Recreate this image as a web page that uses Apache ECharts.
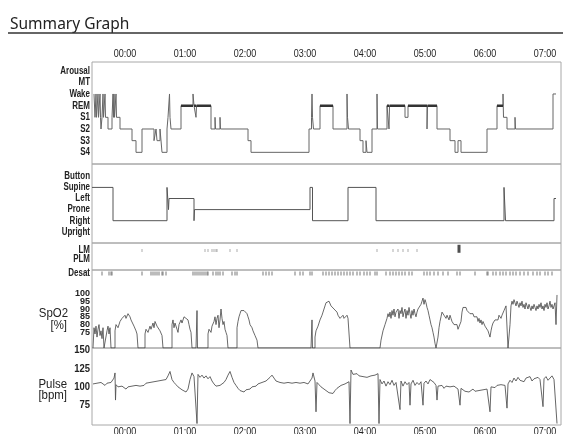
<!DOCTYPE html>
<html>
<head>
<meta charset="utf-8">
<script src="https://cdn.jsdelivr.net/npm/echarts@6/dist/echarts.min.js"></script>
<style>
html,body{margin:0;padding:0;background:#fff;}
#chart{width:563px;height:434px;}
</style>
</head>
<body>
<div id="chart"></div>
<script>
// ---- time axis (minutes from 00:00) ----
const timeTicks = [0, 60, 120, 180, 240, 300, 360, 420];
const timeLabels = ['00:00', '01:00', '02:00', '03:00', '04:00', '05:00', '06:00', '07:00'];

// ---- hypnogram: 0=S4 1=S3 2=S2 3=S1 4=REM 5=Wake 6=MT 7=Arousal ----
const stageNames = ['S4', 'S3', 'S2', 'S1', 'REM', 'Wake', 'MT', 'Arousal'];
const hypno = [
  [-31,5],[-30,3],[-29,5],[-28.5,3],[-27,5],[-26.5,3],[-25,5],[-24.5,3],[-24,2],[-23,3],[-22,5],[-21.5,3],
  [-20,5],[-19.5,3],[-17,2],[-13,3],[-12,5],[-11.5,3],[-11,5],[-10.5,3],[-9,5],[-8.5,3],[-5,2],[7,1],[11,0],
  [17,2],[29,1],[31,2],[32,1],[35,2],[37,0],[42,2],[43,3],[44.5,5],[45,3],[46,2],[56,4],[68,5],[69,4],[71,3],
  [71.5,4],[86,2],[90,3],[90.5,2],[95,3],[95.5,2],[123,1],[126,0],[184,2],[186.5,3],[187,5],[187.5,3],[188.5,2],
  [195,4],[208,2],[222,5],[222.5,3],[223.5,2],[235,1],[238,0],[241,1],[242,0],[247,2],[252,5],[252.5,2],
  [262,4],[264,2],[264.5,4],[280,3],[283,4],[302,2],[302.5,4],[312,2],[325,1],[330,0],[333,1],[336,0],
  [362,2],[372,4],[378,5],[378.5,3],[382,2],[390,3],[390.5,2],[428,5],[431,5]
];

// ---- body position: 0=Upright 1=Right 2=Prone 3=Left 4=Supine 5=Button ----
const positionNames = ['Upright', 'Right', 'Prone', 'Left', 'Supine', 'Button'];
const position = [
  [-33,4],[-12,1],[42,4],[43.5,2],[44,3],[69,1],[69.5,2],[185,4],[187.5,1],[223,4],[251,1],
  [379,4],[380.5,1],[429,3],[431,3]
];

// ---- limb movements / desaturations (event times, minutes) ----
const limbNames = ['PLM', 'LM'];
const lmEvents = [17, 80, 83, 87, 89, 91, 92, 105, 112, 252, 268, 273, 278, 283, 292];
const lmBlock = [334];
const desatNames = ['Desat'];
const desatEvents = [
  -23,-16,-14,-13,17,26,28,30,32,34,37,38,41,68,70,72,74,76,78,80,82,83,88,91,93,95,98,107,110,112,
  138,141,144,147,170,175,178,185,187,198,201,204,207,210,213,216,219,222,225,228,232,235,239,242,245,
  250,252,261,265,268,271,274,277,280,284,287,299,302,305,309,313,318,323,332,335,350,362,363,368,371,
  375,378,381,385,388,391,395,399,403,408,412,415,420,423,427
];

// ---- SpO2 [%] ----
const spo2Ticks = [75, 80, 85, 90, 95, 100];
const spo2 = [
  [-32,65],[-31,78],[-30,74],[-29,79],[-28,72],[-27,77],[-26,80],[-25,73],[-24,76],[-23,71],[-22,78],[-21,65],
  [-19,65],[-18,76],[-17,79],[-16,74],[-15,78],[-14,65],
  [-10,65],[-10,76],[-9,80],[-7,78],[-5,82],[-3,84],[-1,83],[0,86],[1,84],[3,87],[5,85],[6,83],[8,82],[9,79],[10,80],[11,76],[12,74],[13,65],
  [20,65],[20,74],[21,77],[23,75],[25,79],[26,77],[28,81],[29,78],[30,82],[32,79],[33,80],[35,76],[36,77],[37,73],[38,65],
  [47,65],[47,80],[48,83],[49,78],[50,81],[52,77],[53,75],[54,80],[56,83],[57,81],[59,85],[60,84],[61,86],[63,83],[64,80],[65,77],[66,75],[67,65],
  [71,65],[72,89],[72.5,65],
  [83,65],[83,74],[84,77],[86,75],[87,79],[89,82],[90,85],[91,80],[92,84],[93,86],[94,78],[95,83],[96,90],[97,84],[98,80],[99,82],[100,77],[101,75],[102,73],[103,65],
  [112,65],[112,78],[113,82],[114,85],[115,87],[116,89],[118,88],[119,89],[120,88],[122,87],[123,85],[124,83],[125,80],[127,78],[128,76],[129,77],[130,73],[131,72],[132,70],[133,65],
  [186,65],[187,83],[187.5,65],
  [190,65],[190,72],[191,76],[192,75],[193,79],[194,81],[195,83],[196,82],[197,86],[198,88],[199,90],[200,92],[201,94],[202,95],[203,93],[204,95],[205,94],[206,92],[207,93],[208,92],[209,90],[210,91],[211,89],[212,88],[213,86],[214,87],[215,84],[216,85],[217,83],[218,86],[219,84],[220,85],[221,83],[222,86],[223,84],[224,85],[225,65],
  [255,65],[256,70],[258,76],[260,80],[262,84],[263,87],[264,85],[265,88],[266,84],[267,89],[268,86],[269,90],[270,85],[271,88],[272,87],[273,90],[274,84],[275,89],[276,87],[277,91],[278,85],[279,88],[280,90],[281,84],[282,89],[283,86],[284,91],[285,87],[286,84],[287,89],[288,86],[289,90],[290,87],[291,85],[292,88],[293,90],[294,91],[295,89],[296,93],[297,95],[298,97],[299,93],[300,96],[301,94],[302,91],[303,89],[304,86],[305,83],[306,80],[307,78],[308,75],[309,72],[310,68],[311,65],
  [312,65],[313,72],[314,78],[315,82],[316,85],[317,88],[318,89],[319,86],[320,87],[321,84],[322,86],[323,85],[324,83],[325,86],[326,84],[327,82],[328,83],[329,80],[330,81],[331,79],[332,80],[333,77],[334,78],[335,76],
  [336,82],[337,88],[338,91],[339,92],[340,90],[341,91],[342,89],[343,88],[344,89],[345,87],[346,88],[347,86],[348,87],[349,85],[350,86],[351,84],[352,85],
  [353,82],[354,84],[355,81],[356,83],[357,80],[358,82],[359,81],[360,79],[361,80],[362,78],[363,76],[364,74],[365,72],
  [366,76],[367,79],[368,81],[369,80],[370,83],[371,82],[372,84],[373,83],[374,86],[375,85],[376,84],[377,86],[378,87],[379,89],[380,90],[381,92],[382,91],[383,65],[384,65],
  [385,80],[386,92],[387,95],[388,93],[389,96],[390,94],[391,92],[392,95],[393,93],[394,91],[395,94],[396,92],[397,95],[398,91],[399,93],[400,90],[401,94],[402,92],[403,90],[404,93],[405,91],[406,89],[407,92],[408,90],[409,93],[410,91],[411,89],[412,92],[413,90],[414,93],[415,91],[416,94],[417,90],[418,92],[419,89],[420,93],[421,91],[422,94],[423,90],[424,92],[425,95],[426,91],[427,93],[428,90],[429,92],[430,94],[431,80],[432,99]
];

// ---- Pulse [bpm] ----
const pulseTicks = [75, 100, 125, 150];
const pulse = [
  [-32,104],[-30,102],[-28,105],[-26,103],[-24,106],[-22,104],[-20,102],[-18,105],[-16,103],[-14,106],[-12,105],[-11,112],[-10,119],[-9.5,82],[-9,103],
  [-7,100],[-5,98],[-3,101],[-1,99],[1,97],[3,100],[5,98],[7,101],[9,99],[11,102],[13,100],[15,101],[17,103],[19,102],[21,105],[23,104],[25,106],[27,104],
  [29,107],[31,105],[33,108],[35,106],[37,109],[39,107],[41,110],[43,115],[45,121],[47,110],[49,106],[51,103],[53,100],[55,98],[57,96],[59,94],[61,93],
  [63,97],[65,110],[67,119],[69,114],[71,116],[72,50],[73,117],[75,113],[77,116],[79,112],[81,115],[83,111],[85,114],[87,108],[89,104],[91,101],[93,99],
  [95,102],[97,100],[99,106],[101,110],[103,116],[105,121],[107,113],[109,106],[111,102],[113,98],[115,95],[117,94],[119,93],[121,96],[123,98],[125,97],
  [127,100],[129,102],[131,101],[133,104],[135,103],[137,106],[139,105],[141,108],[143,110],[145,113],[147,116],[149,112],[151,108],[153,107],[155,106],
  [157,108],[159,105],[161,107],[163,106],[165,108],[167,105],[169,107],[171,106],[173,108],[175,105],[177,107],[179,106],[181,108],[183,104],[185,106],
  [187,112],[188,119],[190,108],[191,66],[192,106],[194,103],[196,100],[198,98],[200,96],[202,94],[204,92],[206,93],[208,91],[210,95],[212,98],[214,100],
  [216,102],[218,101],[220,104],[222,106],[224,107],[225,50],[226,123],[228,117],[230,116],[232,118],[234,115],[236,116],[238,114],[240,115],[242,113],
  [244,114],[246,115],[248,114],[250,116],[252,117],[253,118],[254,50],[255,110],[257,104],[259,108],[261,101],[263,107],[265,103],[267,109],[269,102],
  [271,106],[273,104],[275,69],[276,108],[278,101],[280,107],[282,103],[284,106],[285,75],[286,104],[288,109],[290,102],[292,106],[294,103],[296,107],
  [298,75],[299,105],[301,108],[303,104],[305,110],[307,112],[309,106],[311,102],[312,82],[313,101],[315,99],[317,102],[319,98],[321,101],[323,99],
  [325,100],[327,98],[329,101],[331,99],[333,97],[335,75],[336,98],[338,96],[340,94],[342,96],[344,93],[346,95],[348,97],[350,94],[352,96],[354,95],
  [356,97],[358,96],[360,98],[362,97],[364,99],[365,66],[366,100],[368,101],[370,99],[372,102],[374,100],[376,103],[378,101],[380,102],[382,71],[383,104],
  [385,109],[387,106],[389,112],[391,108],[393,113],[395,109],[397,111],[399,107],[401,112],[403,110],[405,114],[407,108],[409,111],[411,109],[413,113],
  [415,110],[417,112],[418,73],[419,111],[421,114],[423,109],[425,112],[427,115],[429,110],[431,112],[432,50]
];

// ---------------------------------------------------------------
const SANS = '"Liberation Sans", Arial, sans-serif';
const T_MIN = -33, T_MAX = 436;

// REM overlay derived from hypnogram
const remLine = [];
for (let i = 0; i < hypno.length - 1; i++) {
  if (hypno[i][1] === 4) {
    remLine.push([hypno[i][0], 4], [hypno[i + 1][0], 4], [hypno[i + 1][0], null]);
  }
}

const grids = [
  {top: 62, height: 102},  // hypnogram
  {top: 164, height: 79},  // position
  {top: 243, height: 27},  // LM / PLM
  {top: 270, height: 7, show: false}, // desat
  {top: 270, height: 78},  // SpO2
  {top: 348, height: 77}   // pulse
].map(g => Object.assign({
  left: 92, right: 2, show: true, borderColor: '#a8a8a8', borderWidth: 1,
  backgroundColor: 'transparent'
}, g));

const xAxes = grids.map((g, i) => ({
  type: 'value', gridIndex: i, min: T_MIN, max: T_MAX, show: false
}));

const yRanges = [[-1, 7.74], [-1.01, 6.11], [-1.29, 1.88], [0, 1], [65, 115], [48, 153]];
const yAxes = yRanges.map((r, i) => ({
  type: 'value', gridIndex: i, min: r[0], max: r[1], show: false
}));

const baseGraphic = [
  {type: 'text', left: 10, top: 16, scaleX: 0.97, style: {text: 'Summary Graph', font: '16px "Noto Sans", sans-serif', fill: '#222'}},
  {type: 'line', shape: {x1: 8, y1: 33, x2: 563, y2: 33}, style: {stroke: '#333', lineWidth: 1.5}},
  {type: 'text', x: 68, y: 313, scaleX: 0.88, style: {text: 'SpO2', font: '13px ' + SANS, fill: '#222', align: 'right', verticalAlign: 'middle'}},
  {type: 'text', x: 67, y: 325, scaleX: 0.88, style: {text: '[%]', font: '13px ' + SANS, fill: '#222', align: 'right', verticalAlign: 'middle'}},
  {type: 'text', x: 67, y: 384, scaleX: 0.88, style: {text: 'Pulse', font: '13px ' + SANS, fill: '#222', align: 'right', verticalAlign: 'middle'}},
  {type: 'text', x: 67, y: 395, scaleX: 0.88, style: {text: '[bpm]', font: '13px ' + SANS, fill: '#222', align: 'right', verticalAlign: 'middle'}}
];

const option = {
  animation: false,
  backgroundColor: '#fff',
  grid: grids,
  xAxis: xAxes,
  yAxis: yAxes,
  graphic: baseGraphic,
  series: [
    {type: 'line', xAxisIndex: 0, yAxisIndex: 0, step: 'end', data: hypno, symbol: 'none',
     lineStyle: {color: '#666', width: 1}},
    {type: 'line', xAxisIndex: 0, yAxisIndex: 0, data: remLine, symbol: 'none', connectNulls: false,
     lineStyle: {color: '#333', width: 2.5}},
    {type: 'line', xAxisIndex: 1, yAxisIndex: 1, step: 'end', data: position, symbol: 'none',
     lineStyle: {color: '#555', width: 1}},
    {type: 'scatter', xAxisIndex: 2, yAxisIndex: 2, data: lmEvents.map(t => [t, 1]),
     symbol: 'rect', symbolSize: [1, 3], itemStyle: {color: '#999'}},
    {type: 'scatter', xAxisIndex: 2, yAxisIndex: 2, data: lmBlock.map(t => [t, 1.2]),
     symbol: 'rect', symbolSize: [3, 8], itemStyle: {color: '#222'}},
    {type: 'scatter', xAxisIndex: 3, yAxisIndex: 3, data: desatEvents.map(t => [t, 0.5]),
     symbol: 'rect', symbolSize: [1, 4], itemStyle: {color: '#555'}},
    {type: 'line', xAxisIndex: 4, yAxisIndex: 4, data: spo2, symbol: 'none', clip: true,
     lineStyle: {color: '#444', width: 0.8}},
    {type: 'line', xAxisIndex: 5, yAxisIndex: 5, data: pulse, symbol: 'none', clip: true,
     lineStyle: {color: '#555', width: 0.9}}
  ]
};

const chart = echarts.init(document.getElementById('chart'), null, {renderer: 'canvas'});
chart.setOption(option);

// ---- axis labels, placed through the chart's own scales (narrowed text) ----
const labelGraphic = [];
function yLabels(gridIndex, values, textOf, font, scaleX) {
  values.forEach(v => {
    const p = chart.convertToPixel({gridIndex: gridIndex}, [T_MIN, v]);
    labelGraphic.push({type: 'text', x: p[0] - 2, y: p[1], scaleX: scaleX,
      style: {text: textOf(v), font: font, fill: '#222', align: 'right', verticalAlign: 'middle'}});
  });
}
const NAME_FONT = 'bold 10.5px ' + SANS;
yLabels(0, stageNames.map((n, i) => i), v => stageNames[v], NAME_FONT, 0.76);
yLabels(1, positionNames.map((n, i) => i), v => positionNames[v], NAME_FONT, 0.76);
yLabels(2, [0, 1], v => limbNames[v], NAME_FONT, 0.76);
yLabels(3, [0.5], v => desatNames[0], NAME_FONT, 0.76);
yLabels(4, spo2Ticks, v => String(v), 'bold 9.5px ' + SANS, 0.95);
yLabels(5, pulseTicks, v => String(v), 'bold 11px ' + SANS, 0.86);

timeTicks.forEach((t, k) => {
  const top = chart.convertToPixel({gridIndex: 0}, [t, yRanges[0][1]]);
  const bot = chart.convertToPixel({gridIndex: 5}, [t, yRanges[5][0]]);
  [[top[0], top[1] - 8], [bot[0], bot[1] + 7]].forEach(p => {
    labelGraphic.push({type: 'text', x: p[0], y: p[1], scaleX: 0.78,
      style: {text: timeLabels[k], font: '11.5px ' + SANS, fill: '#222', align: 'center', verticalAlign: 'middle'}});
  });
});

chart.setOption({graphic: baseGraphic.concat(labelGraphic)});
</script>
</body>
</html>
